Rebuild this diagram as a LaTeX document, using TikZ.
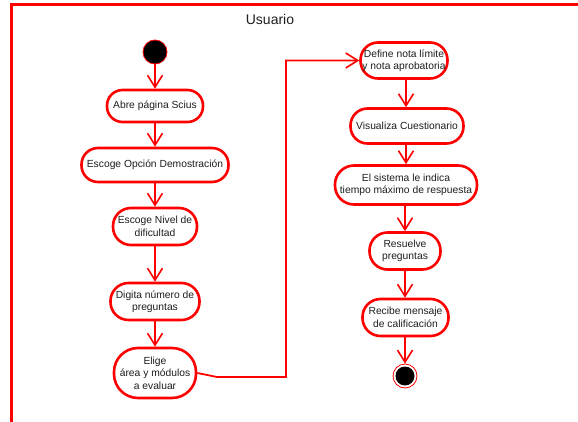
\documentclass[tikz,border=0pt]{standalone}
\usepackage{fontspec}
\setmainfont{Liberation Sans}
\usetikzlibrary{arrows.meta}
\definecolor{umlred}{RGB}{255,0,0}
\definecolor{txt}{RGB}{30,30,30}
\tikzset{
  act/.style={draw=umlred, line width=2.6pt, fill=white, align=center, text=txt,
    font=\fontsize{10.3}{12.4}\selectfont, inner sep=0pt, rounded corners=15.5pt},
  flow/.style={draw=umlred, line width=1.8pt, -{Straight Barb[length=12pt,width=15pt,line width=1.6pt]}},
}
\begin{document}
\begin{tikzpicture}[x=1pt,y=-1pt]
\useasboundingbox (0,0) rectangle (578,422);
% swimlane frame
\draw[umlred, line width=3pt] (11,422) -- (11,5) -- (578,5);
\node[font=\fontsize{14}{16}\selectfont, text=txt] (lane) at (270,19) {Usuario};

% start
\node[circle, fill=black, draw=umlred, line width=0.8pt, minimum size=24pt, inner sep=0pt] (start) at (155,52) {};

% left column
\node[act, minimum width=96pt, minimum height=32pt] (abre) at (155,106) {Abre página Scius};
\node[act, minimum width=147pt, minimum height=34pt, rounded corners=16.5pt] (opc) at (155,165) {Escoge Opción Demostración};
\node[act, minimum width=84pt, minimum height=37pt, rounded corners=18pt] (niv) at (155,226.5) {Escoge Nivel de\\dificultad};
\node[act, minimum width=89pt, minimum height=37pt, rounded corners=18pt] (dig) at (155,301.5) {Digita número de\\preguntas};
\node[act, minimum width=82pt, minimum height=50pt, rounded corners=24pt] (eli) at (155,373) {Elige\\área y módulos\\a evaluar};

% right column
\node[act, minimum width=87pt, minimum height=36pt, rounded corners=17.5pt] (def) at (404,60.5) {Define nota límite\\y nota aprobatoria};
\node[act, minimum width=113pt, minimum height=35pt, rounded corners=17pt] (vis) at (407,126) {Visualiza Cuestionario};
\node[act, minimum width=142pt, minimum height=39pt, rounded corners=19pt] (sis) at (406,185) {El sistema le indica\\tiempo máximo de respuesta};
\node[act, minimum width=71pt, minimum height=37pt, rounded corners=18pt] (res) at (405,251) {Resuelve\\preguntas};
\node[act, minimum width=86pt, minimum height=37pt, rounded corners=18pt] (rec) at (405.5,317.5) {Recibe mensaje\\de calificación};

% end
\node[circle, draw=umlred, line width=0.8pt, fill=white, minimum size=24pt, inner sep=0pt] (fin) at (405,376) {};
\node[circle, fill=black, minimum size=19pt, inner sep=0pt] (fincore) at (fin) {};

% flows
\draw[flow] (start) -- (abre);
\draw[flow] (abre) -- (opc);
\draw[flow] (opc) -- (niv);
\draw[flow] (niv) -- (dig);
\draw[flow] (dig) -- (eli);
\coordinate (c1) at (217,377);
\coordinate (c2) at (286,377);
\draw[flow] (eli.east) -- (c1) -- (c2) |- (def.west);
\draw[flow] (def.south -| 406,0) -- (vis.north -| 406,0);
\draw[flow] (vis.south -| 406,0) -- (sis.north -| 406,0);
\draw[flow] (sis.south -| 405,0) -- (res.north -| 405,0);
\draw[flow] (res.south -| 405,0) -- (rec.north -| 405,0);
\draw[flow] (rec.south -| 405,0) -- (fin.north);
\end{tikzpicture}
\end{document}
